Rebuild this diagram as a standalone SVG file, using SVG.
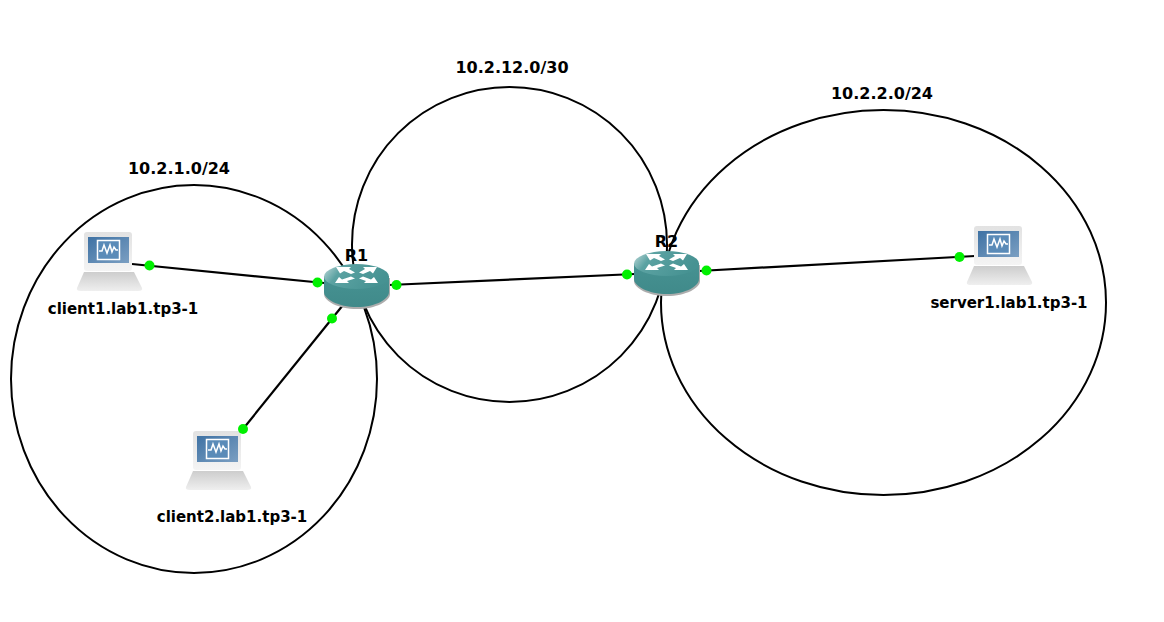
<svg xmlns="http://www.w3.org/2000/svg" width="1164" height="622" viewBox="0 0 1164 622">
<style>
text{font-family:"DejaVu Sans",sans-serif;font-weight:700;font-size:15px;fill:#000;text-anchor:middle}
text.n{font-size:16px}
.net{fill:none;stroke:#000;stroke-width:2}
.link{stroke:#000;stroke-width:2.2}
.dot{fill:#00f000}
</style>
<defs>
<linearGradient id="rt" x1="0" y1="0" x2="1" y2="0.3"><stop offset="0" stop-color="#c4dcdc"/><stop offset="0.3" stop-color="#5ba2a2"/><stop offset="1" stop-color="#469292"/></linearGradient>
<linearGradient id="rs" x1="0" y1="0" x2="0" y2="1"><stop offset="0" stop-color="#469292"/><stop offset="1" stop-color="#408a8a"/></linearGradient>
<linearGradient id="sc" x1="0" y1="0" x2="1" y2="1"><stop offset="0" stop-color="#3f72a4"/><stop offset="1" stop-color="#7b9fc2"/></linearGradient>
<linearGradient id="bz" x1="0" y1="0" x2="0" y2="1"><stop offset="0" stop-color="#e2e2e2"/><stop offset="1" stop-color="#f4f4f4"/></linearGradient>
<linearGradient id="kb" x1="0" y1="0" x2="0" y2="1"><stop offset="0" stop-color="#cdcdcd"/><stop offset="1" stop-color="#efefef"/></linearGradient>
<g id="router">
<path d="M0 14V30C0 37 14 45 33 45S66 37 66 30V14Z" fill="#adadad"/>
<path d="M0 12V28C0 35 14 43 33 43S65 35 65 28V12Z" fill="url(#rs)"/>
<ellipse cx="32.500" cy="12.500" rx="32.500" ry="12.500" fill="url(#rt)"/>
<path d="M12 3 27 3 25 5 31 8.500 27 10 20 7 16 9.500ZM53 3 39 3 41 5 35 8.500 39 10 46 7 49 9.500ZM11 19 25 19 23 17 31 14.500 27 12.500 18 15.500 15 13ZM54 19 40 19 42 17 35 14.500 39 12.500 47 15.500 50 13Z" fill="#fff"/>
</g>
<g id="pc">
<path d="M7 40H57L65 56Q66 59 61 59H4Q-1 59 0 56Z" fill="url(#kb)"/>
<rect x="7" y="0" width="48" height="39" rx="3" fill="url(#bz)"/>
<rect x="11" y="5" width="41" height="26" fill="url(#sc)"/>
<rect x="20.500" y="8.500" width="22" height="19" fill="#5a8bb8" stroke="#fff" stroke-width="1.500"/>
<path d="M22 19H25L27 13 30 21 33 13 35 20 37 15 39 18H41" fill="none" stroke="#fff" stroke-width="1.500"/>
</g>
</defs>
<rect width="1164" height="622" fill="#fff"/>
<g id="networks">
<ellipse class="net" cx="194" cy="379" rx="183" ry="194"/>
<ellipse class="net" cx="509.500" cy="244.500" rx="157.500" ry="157.500"/>
<ellipse class="net" cx="883.500" cy="302.500" rx="222.500" ry="192.500"/>
</g>
<g id="connectors">
<line class="link" x1="132" y1="264" x2="324" y2="283"/>
<line class="link" x1="243" y1="429" x2="343" y2="305"/>
<line class="link" x1="389" y1="285" x2="635" y2="274"/>
<line class="link" x1="699" y1="271" x2="975" y2="256"/>
</g>
<g id="client1"><use href="#pc" x="77" y="232"/><text x="123" y="314">client1.lab1.tp3-1</text></g>
<g id="client2"><use href="#pc" x="186" y="431"/><text x="232" y="522">client2.lab1.tp3-1</text></g>
<g id="server1"><use href="#pc" x="967" y="226"/><text x="1009" y="308">server1.lab1.tp3-1</text></g>
<g id="R1"><use href="#router" x="324" y="264"/><text class="n" x="356.500" y="261">R1</text></g>
<g id="R2"><use href="#router" x="634" y="251"/><text class="n" x="666.500" y="247">R2</text></g>
<g id="status">
<circle class="dot" cx="149.500" cy="265.500" r="5"/>
<circle class="dot" cx="317.500" cy="282.500" r="5"/>
<circle class="dot" cx="332" cy="318.500" r="5"/>
<circle class="dot" cx="243" cy="429" r="5"/>
<circle class="dot" cx="396.500" cy="285" r="5"/>
<circle class="dot" cx="627" cy="274.500" r="5"/>
<circle class="dot" cx="706.500" cy="270.500" r="5"/>
<circle class="dot" cx="959.500" cy="257" r="5"/>
</g>
<g id="labels">
<text class="n" x="512" y="73">10.2.12.0/30</text>
<text class="n" x="882" y="99">10.2.2.0/24</text>
<text class="n" x="179" y="174">10.2.1.0/24</text>
</g>
</svg>
